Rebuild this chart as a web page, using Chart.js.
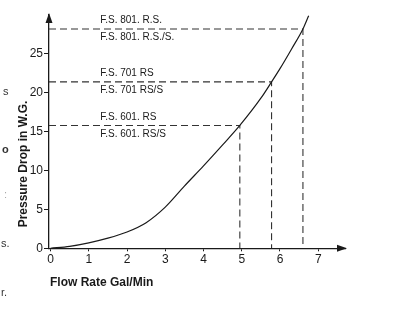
<!DOCTYPE html>
<html>
<head>
<meta charset="utf-8">
<script src="https://cdn.jsdelivr.net/npm/chart.js@4/dist/chart.umd.min.js"></script>
<style>
html,body{margin:0;padding:0;background:#fff;}
#wrap{width:400px;height:315px;position:relative;}
</style>
</head>
<body>
<div id="wrap"><canvas id="c" width="400" height="315"></canvas></div>
<script>
// Pressure-drop curve (flow rate in Gal/Min, pressure drop in W.G.)
const flowRate = [0, 0.5, 1, 1.5, 2, 2.5, 3, 3.5, 4, 4.5, 4.95, 5.5, 5.78, 6, 6.3, 6.6, 6.75];
const pressure = [0, 0.25, 0.7, 1.3, 2.1, 3.3, 5.3, 8.0, 10.6, 13.3, 15.8, 19.3, 21.4, 23.1, 25.6, 28.2, 29.9];

// Model reference points
const ratedFlow = [4.95, 5.78, 6.6];
const ratedPressure = [15.8, 21.4, 28.2];
const upperLabels = ['F.S. 601. RS', 'F.S. 701 RS', 'F.S. 801. R.S.'];
const lowerLabels = ['F.S. 601. RS/S', 'F.S. 701 RS/S', 'F.S. 801. R.S./S.'];

// Axis ticks
const xTicks = [0, 1, 2, 3, 4, 5, 6, 7];
const yTicks = [0, 5, 10, 15, 20, 25];

const X_MIN = -0.04, X_MAX = 7.7, Y_MIN = 0, Y_MAX = 30;
const INK = '#1a1a1a';
const FONT = '"Liberation Sans", Arial, Helvetica, sans-serif';

const datasets = [{
  data: flowRate.map((x, i) => ({x, y: pressure[i]})),
  borderColor: INK, borderWidth: 1.2, pointRadius: 0,
  cubicInterpolationMode: 'monotone', fill: false
}];
ratedFlow.forEach((f, i) => {
  datasets.push({
    data: [{x: X_MIN, y: ratedPressure[i]}, {x: f, y: ratedPressure[i]}, {x: f, y: 0}],
    borderColor: '#333', borderWidth: 1.1, borderDash: [7, 4],
    pointRadius: 0, tension: 0, fill: false
  });
});

const decor = {
  id: 'decor',
  afterDraw(chart) {
    const ctx = chart.ctx, xs = chart.scales.x, ys = chart.scales.y;
    const a = chart.chartArea;
    const x0 = xs.getPixelForValue(X_MIN), y0 = ys.getPixelForValue(0);
    ctx.save();
    ctx.fillStyle = INK;
    // arrow heads
    ctx.beginPath();
    ctx.moveTo(a.right + 2, y0); ctx.lineTo(a.right - 8, y0 - 3.5); ctx.lineTo(a.right - 8, y0 + 3.5);
    ctx.closePath(); ctx.fill();
    ctx.beginPath();
    ctx.moveTo(x0, a.top - 2); ctx.lineTo(x0 - 3.5, a.top + 8); ctx.lineTo(x0 + 3.5, a.top + 8);
    ctx.closePath(); ctx.fill();
    // model labels
    ctx.font = '10px ' + FONT;
    ctx.textBaseline = 'middle';
    ctx.textAlign = 'left';
    const lx = xs.getPixelForValue(1.3);
    ratedPressure.forEach((p, i) => {
      const py = ys.getPixelForValue(p);
      ctx.fillText(upperLabels[i], lx, py - 8.5);
      ctx.fillText(lowerLabels[i], lx, py + 8.5);
    });
    // axis titles
    ctx.font = 'bold 12px ' + FONT;
    ctx.fillText('Flow Rate Gal/Min', 50, 283);
    ctx.save();
    ctx.translate(24, 164);
    ctx.rotate(-Math.PI / 2);
    ctx.textAlign = 'center';
    ctx.fillText('Pressure Drop in W.G.', 0, 0);
    ctx.restore();
    // cut-off fragments of neighbouring page text
    ctx.font = '11px ' + FONT;
    ctx.fillStyle = '#333';
    ctx.fillText('s', 3, 92);
    ctx.font = 'bold 11px ' + FONT;
    ctx.fillText('o', 2, 150);
    ctx.font = '11px ' + FONT;
    ctx.fillStyle = '#aaa';
    ctx.fillText(':', 4, 195);
    ctx.fillStyle = '#333';
    ctx.fillText('s.', 1, 244);
    ctx.fillText('r.', 1, 293);
    ctx.restore();
  }
};

new Chart(document.getElementById('c'), {
  type: 'line',
  data: {datasets},
  plugins: [decor],
  options: {
    responsive: false, animation: false,
    layout: {padding: {left: 0, top: 15, right: 55, bottom: 0}},
    plugins: {legend: {display: false}, tooltip: {enabled: false}},
    scales: {
      x: {
        type: 'linear', min: X_MIN, max: X_MAX,
        afterBuildTicks: s => { s.ticks = xTicks.map(v => ({value: v})); },
        afterFit: s => { s.height = 66.7; },
        grid: {drawOnChartArea: false, drawTicks: true, tickLength: 3, color: INK},
        border: {color: INK, width: 1.3},
        ticks: {color: INK, font: {family: FONT, size: 12}, padding: 1, maxRotation: 0}
      },
      y: {
        type: 'linear', min: Y_MIN, max: Y_MAX,
        afterBuildTicks: s => { s.ticks = yTicks.map(v => ({value: v})); },
        afterFit: s => { s.width = 49; },
        grid: {drawOnChartArea: false, drawTicks: true, tickLength: 5, color: INK},
        border: {color: INK, width: 1.3},
        ticks: {color: INK, font: {family: FONT, size: 12}, padding: 1}
      }
    }
  }
});
</script>
</body>
</html>
